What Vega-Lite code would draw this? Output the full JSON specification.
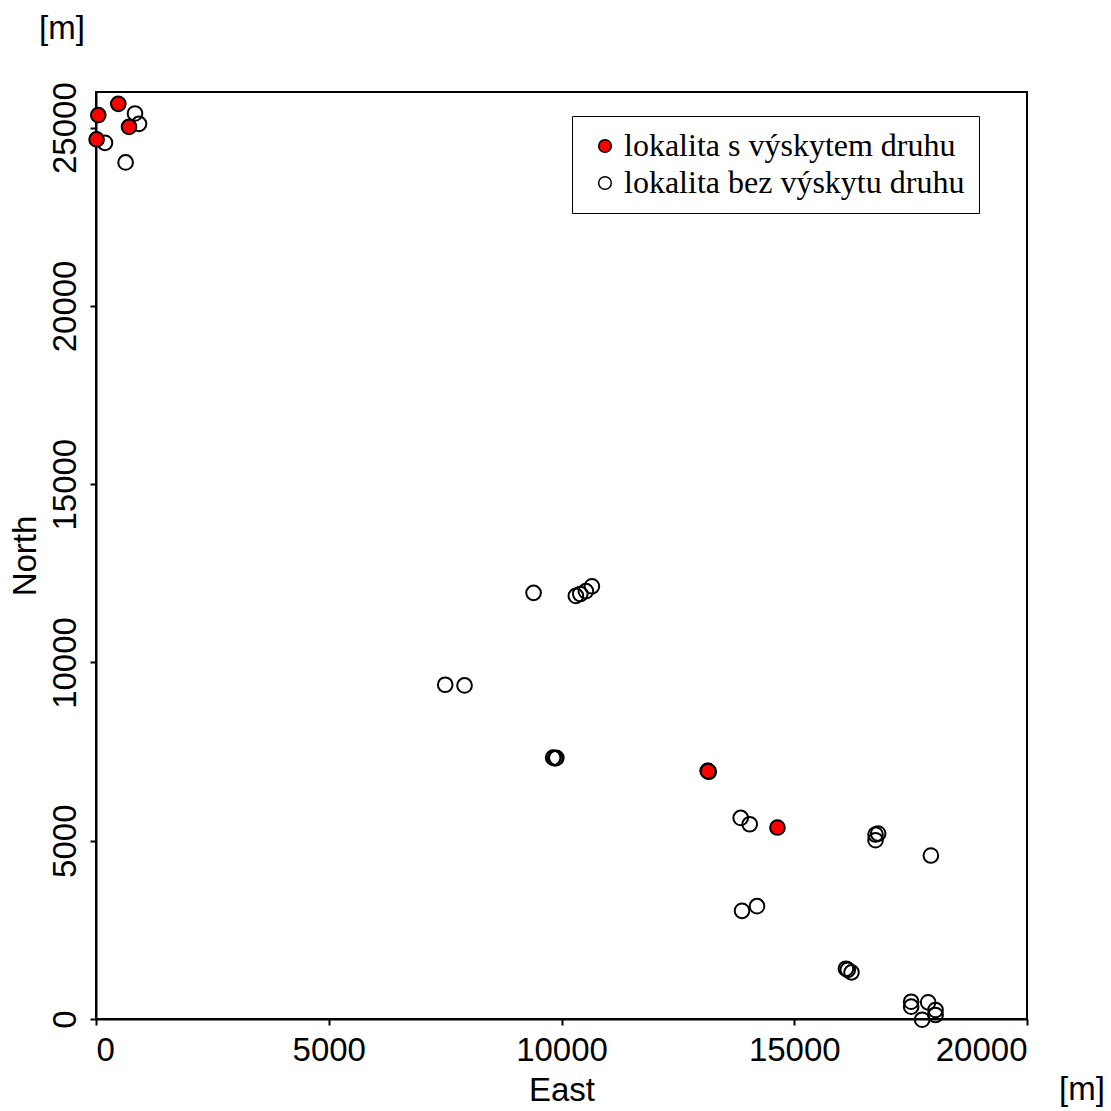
{
  "$schema": "https://vega.github.io/schema/vega-lite/v6.json",
  "width": 931,
  "height": 927,
  "padding": {"left": 9, "top": 12, "right": 5, "bottom": 5},
  "background": "white",
  "title": {"text": "[m]", "anchor": "start", "frame": "group", "dx": -57, "offset": 36, "font": "Liberation Sans", "fontSize": 33, "fontWeight": "normal", "color": "black"},
  "config": {
    "view": {"stroke": "black", "strokeWidth": 2},
    "axis": {"grid": false, "format": "d", "domainColor": "black", "domainWidth": 2, "tickColor": "black", "tickWidth": 2, "tickSize": 6, "labelFont": "Liberation Sans", "labelFontSize": 33, "labelColor": "black", "titleFont": "Liberation Sans", "titleFontSize": 33, "titleFontWeight": "normal", "titleColor": "black"},
    "legend": {"strokeColor": "black", "fillColor": "white", "padding": 14, "labelFont": "Liberation Serif", "labelFontSize": 32, "labelColor": "black", "labelLimit": 0, "symbolSize": 160, "symbolStrokeColor": "black", "symbolStrokeWidth": 1.5, "symbolOffset": 3, "rowPadding": 5, "labelOffset": 3}
  },
  "datasets": {
    "pts": [
      {"East": 838, "North": 25398, "type": "bez"},
      {"East": 924, "North": 25106, "type": "bez"},
      {"East": 193, "North": 24574, "type": "bez"},
      {"East": 636, "North": 24025, "type": "bez"},
      {"East": 9400, "North": 11952, "type": "bez"},
      {"East": 10309, "North": 11866, "type": "bez"},
      {"East": 10404, "North": 11920, "type": "bez"},
      {"East": 10524, "North": 12000, "type": "bez"},
      {"East": 10653, "North": 12137, "type": "bez"},
      {"East": 7502, "North": 9375, "type": "bez"},
      {"East": 7917, "North": 9356, "type": "bez"},
      {"East": 9820, "North": 7330, "type": "bez"},
      {"East": 9860, "North": 7310, "type": "bez"},
      {"East": 9890, "North": 7325, "type": "bez"},
      {"East": 13140, "North": 6960, "type": "bez"},
      {"East": 13165, "North": 6935, "type": "bez"},
      {"East": 13850, "North": 5639, "type": "bez"},
      {"East": 14043, "North": 5462, "type": "bez"},
      {"East": 16746, "North": 5174, "type": "bez"},
      {"East": 16802, "North": 5202, "type": "bez"},
      {"East": 16746, "North": 5014, "type": "bez"},
      {"East": 17935, "North": 4585, "type": "bez"},
      {"East": 13878, "North": 3034, "type": "bez"},
      {"East": 14200, "North": 3165, "type": "bez"},
      {"East": 16110, "North": 1410, "type": "bez"},
      {"East": 16150, "North": 1380, "type": "bez"},
      {"East": 16230, "North": 1308, "type": "bez"},
      {"East": 17511, "North": 485, "type": "bez"},
      {"East": 17511, "North": 345, "type": "bez"},
      {"East": 17877, "North": 468, "type": "bez"},
      {"East": 18035, "North": 252, "type": "bez"},
      {"East": 18035, "North": 112, "type": "bez"},
      {"East": 17748, "North": -20, "type": "bez"},
      {"East": 479, "North": 25667, "type": "s"},
      {"East": 49, "North": 25350, "type": "s"},
      {"East": 709, "North": 25022, "type": "s"},
      {"East": 13, "North": 24669, "type": "s"},
      {"East": 13150, "North": 6950, "type": "s"},
      {"East": 14639, "North": 5370, "type": "s"}
    ]
  },
  "layer": [
    {
      "data": {"name": "pts"},
      "mark": {"type": "point", "shape": "circle", "filled": true, "opacity": 1, "size": 215, "stroke": "black", "strokeWidth": 2},
      "encoding": {
        "x": {"field": "East", "type": "quantitative", "scale": {"domain": [0, 20000], "nice": false}, "axis": {"values": [0, 5000, 10000, 15000, 20000], "title": "East", "labelPadding": 9, "titlePadding": 7}},
        "y": {"field": "North", "type": "quantitative", "scale": {"domain": [0, 26000], "nice": false}, "axis": {"values": [0, 5000, 10000, 15000, 20000, 25000], "title": "North", "labelAngle": -90, "labelAlign": "center", "labelBaseline": "bottom", "labelPadding": 8, "titlePadding": 7}},
        "fill": {"field": "type", "type": "nominal", "scale": {"domain": ["s", "bez"], "range": ["#ff0000", "transparent"]}, "legend": {"title": null, "orient": "none", "legendX": 476, "legendY": 24, "labelExpr": "datum.value == 's' ? 'lokalita s výskytem druhu' : 'lokalita bez výskytu druhu'"}}
      }
    },
    {
      "data": {"values": [{"label": "[m]"}]},
      "mark": {"type": "text", "font": "Liberation Sans", "fontSize": 33, "color": "black", "align": "center", "baseline": "middle", "dx": 55, "dy": 71},
      "encoding": {
        "text": {"field": "label", "type": "nominal"},
        "x": {"datum": 20000, "type": "quantitative"},
        "y": {"datum": 0, "type": "quantitative"}
      }
    }
  ]
}
